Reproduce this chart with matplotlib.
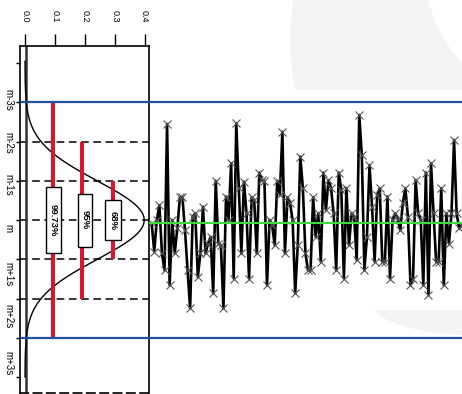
import numpy as np
import matplotlib.pyplot as plt
from matplotlib.patches import Rectangle, Circle, Ellipse

plt.rcParams['font.family'] = ['Liberation Sans', 'DejaVu Sans']

# measurements in units of s from the mean m (positive = below m, as drawn)
series = [0.085, 0.81, 0.0, -0.38, 0.85, 1.28, -2.45, 1.66, 0.0, 0.85, 0.21, -0.58,
          -0.58, 0.26, 1.28, 2.25, -0.09, -0.17, 1.45, 0.85, -0.34, 0.85, 0.60, 0.43,
          1.87, -1.0, 0.60, 0.64, 2.25, -0.60, 0.0, -1.45, 1.49, -2.47, -0.81, 0.85,
          -0.98,
          -0.17, 1.49, -0.58, -0.51, 0.85, -1.21, -1.02, -1.0, 1.66, 0.0, 0.13, 0.64,
          -1.0, -0.64, -2.25, 0.85, -0.58, -0.43, 0.0, 1.87, 0.64, -1.62, -0.81, 0.85,
          1.28, 1.28, -0.58, 0.43, -0.17, 1.06, -1.21, -0.26, -1.02, -0.81, -0.17, 1.28,
          -1.21, -0.77, 1.49, -0.81, 0.64, -0.17,
          -0.09, 1.02, -2.68, -1.66, 1.28, 0.43, -1.40, -0.34, 1.06, -0.64, -0.81, 1.06,
          1.06, -0.60, 1.49, 0.0, -0.17, -0.04, 0.26, -0.43, -0.81, -0.09, 1.66, 1.49,
          -1.02, -0.17, 0.0, 1.66, -1.21, 1.91, -1.45, -0.17, 1.06, 1.06, -0.81, 1.66,
          -0.17, 0.60, -0.17, -2.04, -0.17, 0.21, 0.13]
center_line = 0.08
control_limits = [-3, 3]
sigma_levels = [-3, -2, -1, 0, 1, 2, 3]
coverage_labels = ["99.73%", "95%", "68%"]
coverage_k = [3, 2, 1]
pdf_ticks = [0.0, 0.1, 0.2, 0.3, 0.4]
band_labels = ["m-3s", "m-2s", "m-1s", "m", "m+1s", "m+2s", "m+3s"]
band_label_pos = [-3.06, -1.96, -0.89, 0.2, 1.38, 2.45, 3.65]

W, H = 462, 394
fig = plt.figure(figsize=(W / 100, H / 100), dpi=100)

# faint background watermark (pixel coords -> inches)
def px(x, y):
    return (x / 100, (H - y) / 100)

wm = '#f4f4f4'
fig.add_artist(Circle(px(530, 40), 2.40, transform=fig.dpi_scale_trans, fc=wm, ec='none', zorder=-10))
fig.add_artist(Circle(px(560, -30), 1.35, transform=fig.dpi_scale_trans, fc='white', ec='none', zorder=-9))
fig.add_artist(Ellipse(px(470, 300), 2.0, 0.7, transform=fig.dpi_scale_trans, fc=wm, ec='none', zorder=-10))
fig.add_artist(Rectangle(px(150, 310), 3.2, 2.2, transform=fig.dpi_scale_trans, fc='white', ec='none', zorder=-8))

bottom = 1 - 393 / H
height = (393 - 46) / H
ax = fig.add_axes([20 / W, bottom, (149 - 20) / W, height])
ax_ts = fig.add_axes([149 / W, bottom, (W - 149) / W, height])
ax.set_facecolor('none')
ax_ts.set_facecolor('none')

ylim = (4.41, -4.44)

# --- left panel: rotated normal curve ---
s = np.linspace(-4.05, 4.0, 400)
pdf = np.exp(-s ** 2 / 2) / np.sqrt(2 * np.pi)
ax.plot(pdf, s, color='black', lw=1.0, zorder=3)
ax.axvline(0.005, color='#333333', lw=1.8, zorder=2)

for lvl in sigma_levels:
    ax.axhline(lvl, color='black', lw=1.1, ls=(0, (5, 3)), zorder=1)
for lim in control_limits:
    ax.axhline(lim, color='#2150a0', lw=1.6, zorder=4)

bar_x = [0.093, 0.192, 0.296]
box_x = [0.0954, 0.2008, 0.2946]
box_w = [0.050, 0.047, 0.054]
box_h = [1.68, 1.35, 1.02]
for lab, k, bx, cx, w, h in zip(coverage_labels, coverage_k, bar_x, box_x, box_w, box_h):
    ax.plot([bx, bx], [-k, k], color='#dc1430', lw=2.9, solid_capstyle='butt', zorder=3)
    ax.add_patch(Rectangle((cx - w / 2, -h / 2), w, h, fc='white', ec='black', lw=1.0, zorder=5))
    ax.text(cx, 0, lab, rotation=-90, ha='center', va='center', fontsize=6.8,
            fontweight='bold', zorder=6)

ax.set_xlim(-0.0167, 0.415)
ax.set_ylim(*ylim)
ax.xaxis.tick_top()
ax.set_xticks(pdf_ticks, [f"{t:.1f}" for t in pdf_ticks])
ax.tick_params(axis='x', top=True, bottom=False, length=8.6, width=1.0, pad=8.6,
               labelsize=6.5, labelrotation=-90)
ax.set_yticks(band_label_pos, band_labels)
ax.tick_params(axis='y', which='major', length=0, pad=5, labelsize=7, labelrotation=-90)
for t in ax.get_yticklabels():
    t.set_va('center')
ax.set_yticks(range(-4, 5), minor=True)
ax.tick_params(axis='y', which='minor', length=3, width=1.0)
for sp in ax.spines.values():
    sp.set_linewidth(1.2)
ax.spines['bottom'].set_linestyle((0, (5, 3)))

# --- right panel: the measurements ---
x = np.arange(len(series))
ax_ts.plot(x, series, color='black', lw=1.9, marker='x', ms=6, mec='#555555', mew=0.8, zorder=3)
ax_ts.axhline(center_line, color='#3ddc3d', lw=1.5, zorder=4)
for lim in control_limits:
    ax_ts.axhline(lim, color='#2150a0', lw=1.6, zorder=4)
ax_ts.set_xlim(-1.05, len(series) - 0.9)
ax_ts.set_ylim(*ylim)
ax_ts.axis('off')

fig.savefig('out.png', dpi=100)
